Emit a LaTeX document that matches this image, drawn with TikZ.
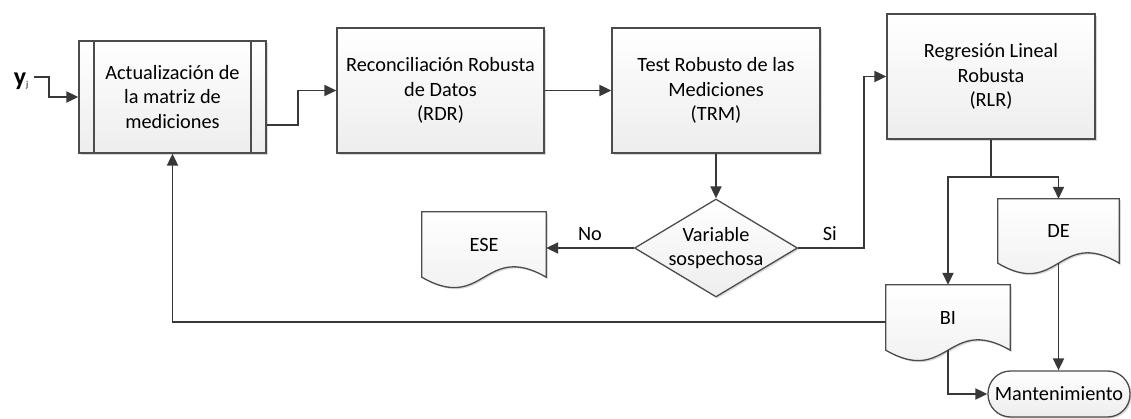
\documentclass[tikz,border=0pt]{standalone}
\usepackage{fontspec}
\setmainfont{Carlito}
\usetikzlibrary{arrows.meta,shapes.geometric,shadows,backgrounds,calc}

\tikzset{
  x=1pt, y=-1pt,
  every node/.style={font=\fontsize{20.3}{24.5}\selectfont, text=black},
  boxfill/.style={draw=black!70, line width=1.3pt, top color=white, bottom color=black!7,
    general shadow={shadow xshift=1.6pt, shadow yshift=-1.6pt, fill=black!15}},
  procbox/.style={boxfill, rectangle, align=center, inner sep=0pt},
  subproc/.style={procbox, path picture={
    \draw[black!70, line width=1.3pt]
      ([xshift=15pt]path picture bounding box.north west) -- ([xshift=15pt]path picture bounding box.south west)
      ([xshift=-15pt]path picture bounding box.north east) -- ([xshift=-15pt]path picture bounding box.south east);}},
  docnode/.style={rectangle, inner sep=0pt, align=center},
  flow/.style={draw=black!78, line width=1.9pt, -{Triangle[length=12pt,width=11pt]}},
  plain/.style={draw=black!78, line width=1.9pt},
}

% outline of a document symbol: flat top, wavy bottom
\newcommand\docoutline[1]{%
  \path[boxfill] (#1.north west) -- (#1.north east) -- (#1.south east)
    .. controls ($(#1.south)+(0,-36)$) and ($(#1.south)+(0,36)$) .. (#1.south west) -- cycle;}

\begin{document}
\begin{tikzpicture}
\useasboundingbox (0,0) rectangle (1131,419);

% process blocks
\node[subproc, minimum width=187pt, minimum height=112pt] (act) at (172.5,97)
  {Actualización de\\la matriz de\\mediciones};
\node[procbox, minimum width=207pt, minimum height=125pt] (rdr) at (440.5,90.5)
  {Reconciliación Robusta\\de Datos\\(RDR)};
\node[procbox, minimum width=208pt, minimum height=125pt] (trm) at (716,90.5)
  {Test Robusto de las\\Mediciones\\(TRM)};
\node[procbox, minimum width=208pt, minimum height=125pt] (rlr) at (991,76.5)
  {Regresión Lineal\\Robusta\\(RLR)};

% decision
\node[diamond, boxfill, minimum width=163pt, minimum height=98pt, inner sep=0pt,
  label={[align=center]center:Variable\\sospechosa}] (dec) at (716,248) {};

% documents
\node[docnode, minimum width=124pt, minimum height=65pt] (ese) at (484,244.5) {ESE};
\node[docnode, minimum width=121pt, minimum height=64pt] (de) at (1058.5,231) {DE};
\node[docnode, minimum width=124pt, minimum height=65pt] (bi) at (948,317.5) {BI};

% terminal
\node[boxfill, rectangle, rounded corners=22.5pt, minimum width=142pt, minimum height=46pt,
  inner sep=0pt] (mant) at (1059,394) {Mantenimiento};

\begin{scope}[on background layer]
  \docoutline{ese}
  \docoutline{de}
  \docoutline{bi}
\end{scope}

% input
\node[anchor=base east, inner sep=0pt] (yj) at (28.5,86)
  {\fontsize{26}{26}\selectfont\textbf{y}{\fontsize{9}{9}\selectfont\raisebox{-2pt}{j}}};
\coordinate (yin) at (34,77);

% connectors
\draw[flow] (yin) -- ++(15,0) |- (act.west);
\draw[flow] ([yshift=-28pt]act.east) -- ++(31,0) |- (rdr.west);
\draw[flow] (rdr.east) -- (trm.west);
\draw[flow] (trm.south) -- (dec.north);
\draw[flow] (dec.west) -- (dec.west -| ese.east)
  node[pos=0.5, above=3pt] (no) {No};
\draw[flow] (dec.east) -- ++(66,0) node[pos=0.48, above=3pt] (si) {Si} |- (rlr.west);
\draw[plain] (rlr.south) -- ++(0,37) coordinate (split);
\draw[flow] (split) -| (de.north);
\draw[flow] (split) -| (bi.north);
\draw[flow] ([yshift=-4.5pt]bi.west) -| (act.south);
\draw[flow] (bi.south) |- (mant.west);
\draw[flow] (de.south) -- (de.south |- mant.north);
\end{tikzpicture}
\end{document}
